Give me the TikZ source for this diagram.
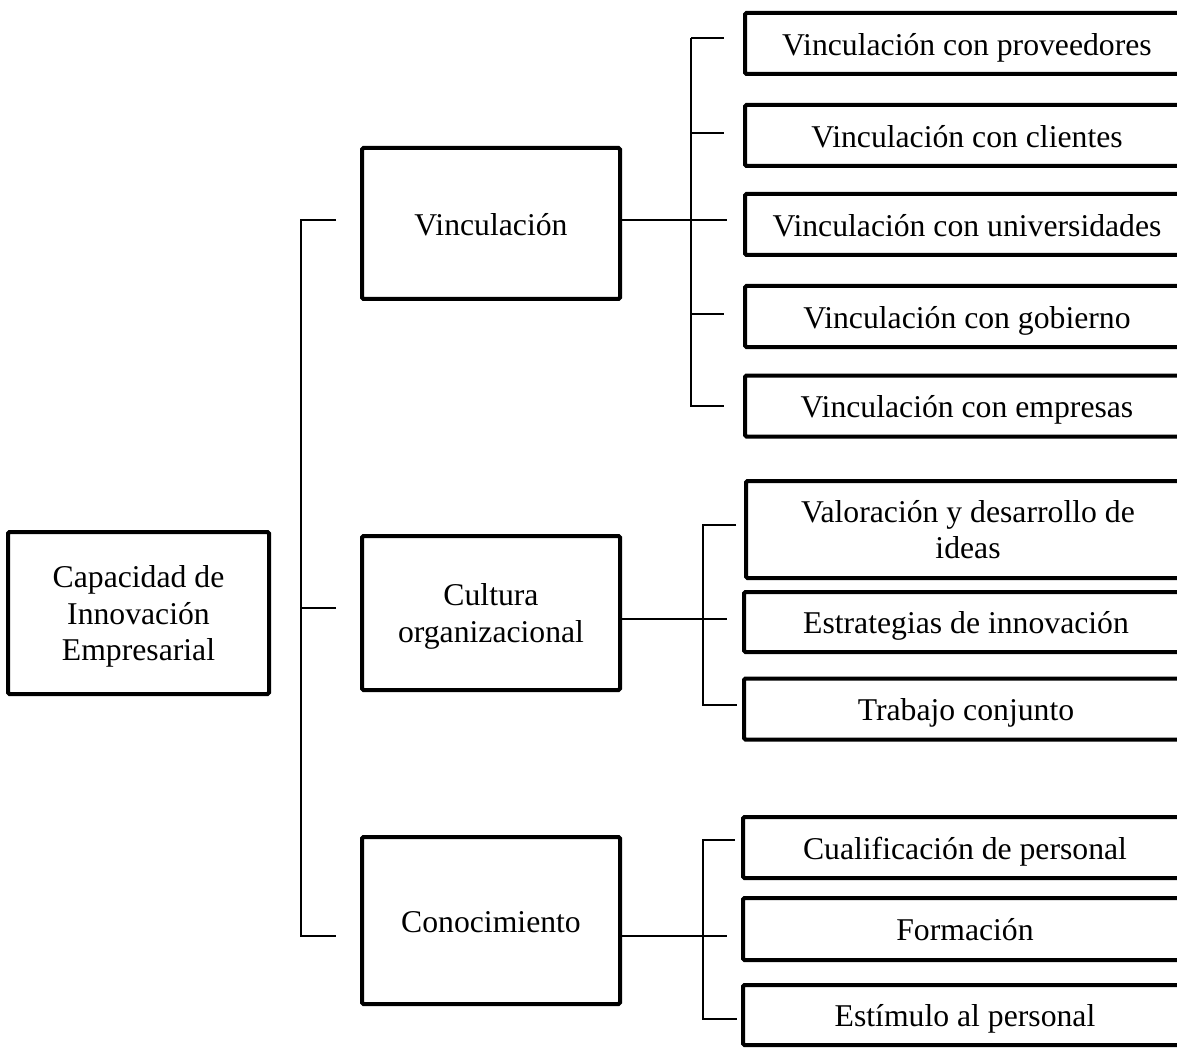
\documentclass[tikz,border=0pt]{standalone}
\usepackage{fontspec}
\setmainfont{Liberation Serif}
\tikzset{
    box/.style={draw, line width=4pt, rounded corners=1.5pt, align=center, inner sep=0pt, font=\fontsize{31.7}{36.5}\selectfont},
    oneline/.style={text height=30pt, text depth=6.3pt},
    mainbox/.style={box, minimum width=258pt},
    leafbox/.style={box, oneline, minimum width=444pt, minimum height=61pt},
    link/.style={line width=1.8pt}
}
\begin{document}
\begin{tikzpicture}[x=1pt, y=-1pt]
    \useasboundingbox (0, 0) rectangle (1177, 1048);
    \clip (0, 0) rectangle (1177, 1048);

    \node[box, text depth=0pt, minimum width=261pt, minimum height=162pt] (root) at (138.5, 613) {Capacidad de\\Innovación\\Empresarial};

    \node[mainbox, oneline, minimum height=151pt] (vinc) at (491, 223.5) {Vinculación};
    \node[mainbox, text depth=0pt, minimum height=154pt] (cult) at (491, 613) {Cultura\\organizacional};
    \node[mainbox, oneline, minimum height=167pt] (cono) at (491, 920.5) {Conocimiento};

    \node[leafbox] (v1) at (967, 43.5) {Vinculación con proveedores};
    \node[leafbox] (v2) at (967, 135.5) {Vinculación con clientes};
    \node[leafbox] (v3) at (967, 224.5) {Vinculación con universidades};
    \node[leafbox] (v4) at (967, 316.5) {Vinculación con gobierno};
    \node[leafbox] (v5) at (967, 406) {Vinculación con empresas};

    \node[box, minimum width=444pt, minimum height=97pt] (c1) at (968, 529.5) {Valoración y desarrollo de\\ideas};
    \node[leafbox, minimum height=60pt] (c2) at (966, 622) {Estrategias de innovación};
    \node[leafbox] (c3) at (966, 709) {Trabajo conjunto};

    \node[leafbox] (k1) at (965, 847.5) {Cualificación de personal};
    \node[leafbox, minimum height=62pt] (k2) at (965, 929) {Formación};
    \node[leafbox, minimum height=60pt] (k3) at (965, 1015) {Estímulo al personal};

    \coordinate (armV) at (336, 220);
    \coordinate (armC) at (336, 608);
    \coordinate (armK) at (336, 936);
    \coordinate (trunk) at (301, 0);

    \coordinate (vEnd) at (727, 220);
    \coordinate (cEnd) at (727, 619);
    \coordinate (kEnd) at (727, 936);

    \begin{scope}[link]
        \draw (armV) -- (armV -| trunk) |- (armK);
        \draw (armC) -- (armC -| trunk);

        \draw (vEnd -| vinc.east) -- (vEnd);
        \draw (691, 38) -- (724, 38) (691, 38) -- (691, 406) -- (724, 406);
        \draw (691, 133) -- (724, 133) (691, 314) -- (724, 314);

        \draw (cEnd -| cult.east) -- (cEnd);
        \draw (736, 525) -- (703, 525) -- (703, 705) -- (737, 705);

        \draw (kEnd -| cono.east) -- (kEnd);
        \draw (735, 840) -- (703, 840) -- (703, 1019) -- (737, 1019);
    \end{scope}
\end{tikzpicture}
\end{document}
